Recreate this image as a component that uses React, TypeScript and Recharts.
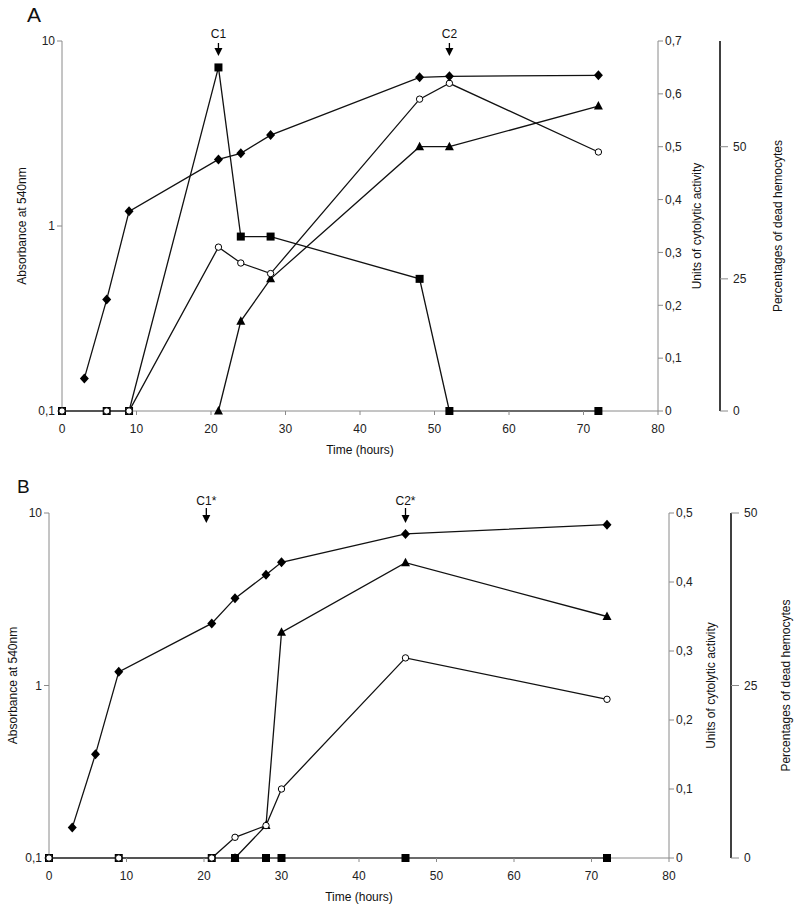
import React from 'react';
import { LineChart, Line, XAxis, YAxis, ReferenceDot } from 'recharts';

// shared ticks
const hourTicks = [0, 10, 20, 30, 40, 50, 60, 70, 80];
const absTicks = [0.1, 1, 10];

// panel A
const cytoTicksA = [0, 0.1, 0.2, 0.3, 0.4, 0.5, 0.6, 0.7];
const pctTicksA = [0, 25, 50];
const diamondHoursA = [3, 6, 9, 21, 24, 28, 48, 52, 72];
const diamondValsA = [0.15, 0.4, 1.2, 2.29, 2.47, 3.1, 6.36, 6.44, 6.52];
const squareHoursA = [0, 6, 9, 21, 24, 28, 48, 52, 72];
const squareValsA = [0, 0, 0, 0.65, 0.33, 0.33, 0.25, 0, 0];
const circleHoursA = [0, 6, 9, 21, 24, 28, 48, 52, 72];
const circleValsA = [0, 0, 0, 0.31, 0.28, 0.26, 0.59, 0.62, 0.49];
const triangleHoursA = [21, 24, 28, 48, 52, 72];
const triangleValsA = [0, 17, 25, 50, 50, 57.7];

// panel B
const cytoTicksB = [0, 0.1, 0.2, 0.3, 0.4, 0.5];
const pctTicksB = [0, 25, 50];
const diamondHoursB = [3, 6, 9, 21, 24, 28, 30, 46, 72];
const diamondValsB = [0.15, 0.4, 1.2, 2.29, 3.2, 4.38, 5.18, 7.56, 8.56];
const squareHoursB = [0, 9, 21, 24, 28, 30, 46, 72];
const squareValsB = [0, 0, 0, 0, 0, 0, 0, 0];
const circleHoursB = [0, 9, 21, 24, 28, 30, 46, 72];
const circleValsB = [0, 0, 0, 0.03, 0.047, 0.1, 0.29, 0.23];
const triangleHoursB = [24, 28, 30, 46, 72];
const triangleValsB = [0, 4.7, 32.7, 42.8, 35];

const pts = (hours: number[], vals: number[]) => hours.map((t, i) => ({ t, v: vals[i] }));

const FONT = "'Liberation Sans', Arial, sans-serif";
const fmt = (v: number) => String(v).replace('.', ',');
const tickStyle = { fontSize: 12, fill: '#222', fontFamily: FONT };
const grayLine = { stroke: '#8a8a8a', strokeWidth: 1 };

const Diamond = (p: any) =>
  p.cx == null ? <g key={`dm${p.index}`} /> : (
    <path key={`dm${p.index}`} d={`M${p.cx},${p.cy - 5}L${p.cx + 4.5},${p.cy}L${p.cx},${p.cy + 5}L${p.cx - 4.5},${p.cy}Z`} fill="#000" />
  );
const Square = (p: any) =>
  p.cx == null ? <g key={`sq${p.index}`} /> : (
    <rect key={`sq${p.index}`} x={p.cx - 4} y={p.cy - 4} width={8} height={8} fill="#000" />
  );
const Circle = (p: any) =>
  p.cx == null ? <g key={`ci${p.index}`} /> : (
    <circle key={`ci${p.index}`} cx={p.cx} cy={p.cy} r={3.2} fill="#fff" stroke="#000" strokeWidth={1} />
  );
const Triangle = (p: any) =>
  p.cx == null ? <g key={`tr${p.index}`} /> : (
    <path key={`tr${p.index}`} d={`M${p.cx},${p.cy - 5}L${p.cx + 4.5},${p.cy + 3.5}L${p.cx - 4.5},${p.cy + 3.5}Z`} fill="#000" />
  );

const arrow = (text: string, textDy: number, shaft0: number, head0: number, head1: number) => (p: any) => (
  <g>
    <text x={p.cx} y={p.cy + textDy} textAnchor="middle" fontSize={12} fontFamily={FONT} fill="#111">{text}</text>
    <line x1={p.cx} x2={p.cx} y1={p.cy + shaft0} y2={p.cy + head0} stroke="#000" strokeWidth={1.3} />
    <path d={`M${p.cx - 4},${p.cy + head0}L${p.cx + 4},${p.cy + head0}L${p.cx},${p.cy + head1}Z`} fill="#000" />
  </g>
);

const vLabel = (text: string, dx: number) => ({
  content: ({ viewBox }: any) => {
    const x = viewBox.x + dx;
    const y = viewBox.y + viewBox.height / 2;
    return (
      <text x={x} y={y} dy="0.35em" transform={`rotate(-90, ${x}, ${y})`} textAnchor="middle" fontSize={12} fontFamily={FONT} fill="#111">
        {text}
      </text>
    );
  },
});

const xLabel = {
  content: ({ viewBox }: any) => (
    <text x={viewBox.x + viewBox.width / 2} y={viewBox.y + 43} textAnchor="middle" fontSize={12} fontFamily={FONT} fill="#111">
      Time (hours)
    </text>
  ),
};

type PanelProps = {
  height: number;
  marginTop: number;
  marginBottom: number;
  leftW: number;
  cytoW: number;
  pctW: number;
  cytoMax: number;
  cytoTicks: number[];
  pctMax: number;
  pctTicks: number[];
  labels: { left: number; cyto: number; pct: number };
  series: { diamond: any[]; square: any[]; circle: any[]; triangle: any[] };
  arrows: { x: number; text: string; dims: number[] }[];
};

const Panel = (p: PanelProps) => (
  <LineChart width={800} height={p.height} margin={{ top: p.marginTop, right: 0, bottom: p.marginBottom, left: 0 }}>
    <XAxis type="number" dataKey="t" domain={[0, 80]} ticks={hourTicks} height={45} tickSize={4} tickMargin={9}
      tick={tickStyle} axisLine={grayLine} tickLine={grayLine} label={xLabel} />
    <YAxis yAxisId="abs" scale="log" domain={[0.1, 10]} ticks={absTicks} allowDataOverflow width={p.leftW}
      tickFormatter={fmt} tick={tickStyle} axisLine={grayLine} tickLine={grayLine} tickSize={5}
      label={vLabel('Absorbance at 540nm', p.labels.left)} />
    <YAxis yAxisId="cyto" orientation="right" domain={[0, p.cytoMax]} ticks={p.cytoTicks} width={p.cytoW}
      tickFormatter={fmt} tick={tickStyle} axisLine={grayLine} tickLine={grayLine} tickSize={5}
      label={vLabel('Units of cytolytic activity', p.labels.cyto)} />
    <YAxis yAxisId="pct" orientation="right" domain={[0, p.pctMax]} ticks={p.pctTicks} width={p.pctW}
      tick={tickStyle} axisLine={{ stroke: '#000', strokeWidth: 1.5 }} tickLine={grayLine} tickSize={8} tickMargin={5}
      label={vLabel('Percentages of dead hemocytes', p.labels.pct)} />
    <Line yAxisId="cyto" data={p.series.square} dataKey="v" stroke="#111" strokeWidth={1.3} dot={Square} isAnimationActive={false} />
    <Line yAxisId="pct" data={p.series.triangle} dataKey="v" stroke="#111" strokeWidth={1.3} dot={Triangle} isAnimationActive={false} />
    <Line yAxisId="cyto" data={p.series.circle} dataKey="v" stroke="#111" strokeWidth={1.3} dot={Circle} isAnimationActive={false} />
    <Line yAxisId="abs" data={p.series.diamond} dataKey="v" stroke="#111" strokeWidth={1.3} dot={Diamond} isAnimationActive={false} />
    {p.arrows.map((a) => (
      <ReferenceDot key={a.text} yAxisId="abs" x={a.x} y={10} ifOverflow="visible"
        shape={arrow(a.text, a.dims[0], a.dims[1], a.dims[2], a.dims[3])} />
    ))}
  </LineChart>
);

export default function App() {
  return (
    <div style={{ position: 'absolute', left: 0, top: 0, width: 800, height: 913, background: '#fff', fontFamily: FONT }}>
      <div style={{ position: 'absolute', left: 27, top: 3, fontSize: 21, color: '#111' }}>A</div>
      <div style={{ position: 'absolute', left: 17, top: 476, fontSize: 19, color: '#111' }}>B</div>
      <div style={{ position: 'absolute', left: 0, top: 0 }}>
        <Panel
          height={460} marginTop={41} marginBottom={4}
          leftW={62} cytoW={62} pctW={80}
          cytoMax={0.7} cytoTicks={cytoTicksA} pctMax={70} pctTicks={pctTicksA}
          labels={{ left: 22, cyto: 39, pct: 58 }}
          series={{
            diamond: pts(diamondHoursA, diamondValsA),
            square: pts(squareHoursA, squareValsA),
            circle: pts(circleHoursA, circleValsA),
            triangle: pts(triangleHoursA, triangleValsA),
          }}
          arrows={[
            { x: 21, text: 'C1', dims: [-3, 2, 7, 15] },
            { x: 52, text: 'C2', dims: [-3, 2, 7, 15] },
          ]}
        />
      </div>
      <div style={{ position: 'absolute', left: 0, top: 460 }}>
        <Panel
          height={453} marginTop={53} marginBottom={10}
          leftW={49} cytoW={62} pctW={69}
          cytoMax={0.5} cytoTicks={cytoTicksB} pctMax={50} pctTicks={pctTicksB}
          labels={{ left: 13, cyto: 42, pct: 55 }}
          series={{
            diamond: pts(diamondHoursB, diamondValsB),
            square: pts(squareHoursB, squareValsB),
            circle: pts(circleHoursB, circleValsB),
            triangle: pts(triangleHoursB, triangleValsB),
          }}
          arrows={[
            { x: 20.3, text: 'C1*', dims: [-8, -5, 2, 10] },
            { x: 46, text: 'C2*', dims: [-8, -5, 2, 10] },
          ]}
        />
      </div>
    </div>
  );
}
